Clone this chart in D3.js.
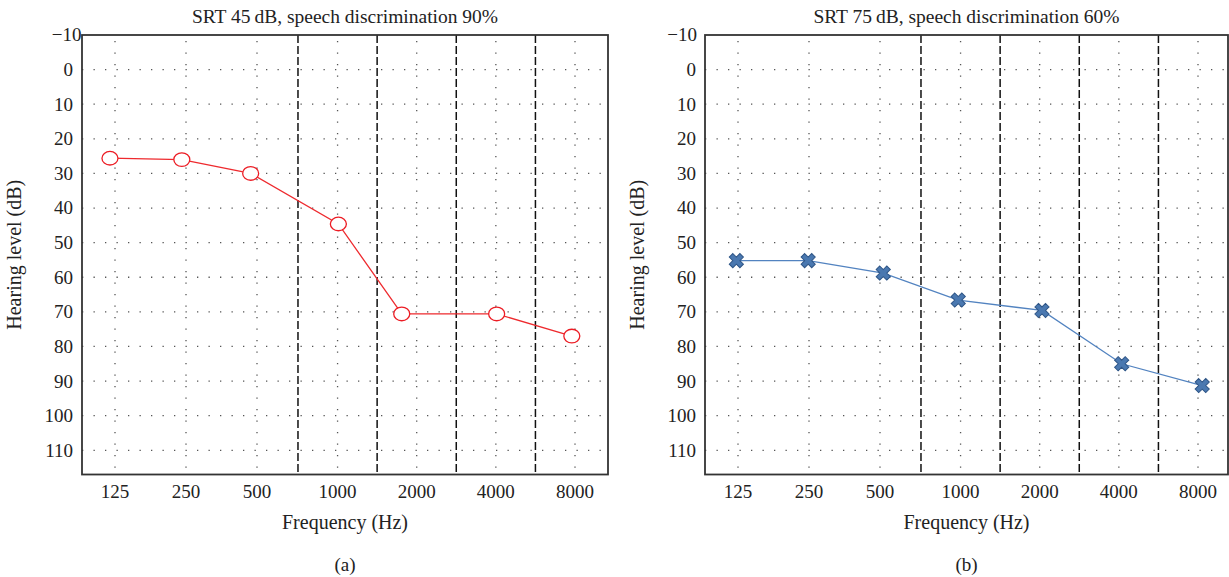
<!DOCTYPE html>
<html>
<head>
<meta charset="utf-8">
<script src="https://cdn.jsdelivr.net/npm/d3@7/dist/d3.min.js"></script>
<style>
  body { margin: 0; background: #fff; }
</style>
</head>
<body>
<svg id="chart" width="1229" height="577" font-family="'Liberation Serif', 'Times New Roman', Times, serif"></svg>
<script>
// audiograms, two panels

// frequency categories (Hz)
const freqs = [125, 250, 500, 1000, 2000, 4000, 8000];
const freqLabels = ["125", "250", "500", "1000", "2000", "4000", "8000"];
// dashed separators sit half an octave between categories
const dashedFreqs = [707, 1414, 2828, 5657];
const yTicks = [-10, 0, 10, 20, 30, 40, 50, 60, 70, 80, 90, 100, 110];

// panel (a): where the circles were plotted, and hearing level
const leftFreq = [119, 240, 470, 1007, 1754, 4028, 7780];
const leftLevel = [25.6, 26, 30, 44.6, 70.6, 70.6, 77];

// panel (b)
const rightFreq = [123, 248, 514, 980, 2040, 4100, 8300];
const rightLevel = [55.2, 55.2, 58.8, 66.6, 69.6, 85, 91.3];

const titles = ["SRT 45\u2009dB, speech discrimination 90%", "SRT 75\u2009dB, speech discrimination 60%"];

var svg = d3.select("#chart");

var top_ = 35, bottom_ = 474.5;

function drawPanel(cfg) {
  var g = svg.append("g").attr("transform", "translate(" + cfg.left + ",0)");
  var w = cfg.width;

  // octave spacing is a bit narrower on the low side
  var oct = d3.scaleLinear().domain([0, 2, 2.5, 6]).range([33, 175, 216, 493]);
  var x = function(f) { return oct(Math.log2(f / 125)); };
  var y = d3.scaleLinear().domain([-10, 117]).range([top_, bottom_]);

  // dotted grid
  g.selectAll(".hgrid")
    .data(yTicks.slice(1))
    .enter().append("line")
    .attr("x1", 0).attr("x2", w)
    .attr("y1", d => y(d)).attr("y2", d => y(d))
    .attr("stroke", "#555").attr("stroke-width", 1.3)
    .attr("stroke-dasharray", "1.3,10.2");

  g.selectAll(".vgrid")
    .data(freqs)
    .enter().append("line")
    .attr("x1", d => x(d)).attr("x2", d => x(d))
    .attr("y1", top_).attr("y2", bottom_)
    .attr("stroke", "#555").attr("stroke-width", 1.3)
    .attr("stroke-dasharray", "1.3,10.2")
    .attr("stroke-dashoffset", -6);

  // dashed separators
  g.selectAll(".sep")
    .data(dashedFreqs)
    .enter().append("line")
    .attr("x1", d => x(d)).attr("x2", d => x(d))
    .attr("y1", top_).attr("y2", bottom_)
    .attr("stroke", "#111").attr("stroke-width", 1.5)
    .attr("stroke-dasharray", "8,3");

  // frame
  g.append("rect")
    .attr("x", 0).attr("y", top_)
    .attr("width", w).attr("height", bottom_ - top_)
    .attr("fill", "none").attr("stroke", "#333").attr("stroke-width", 1.8);

  // y tick labels
  g.selectAll(".ylab")
    .data(yTicks)
    .enter().append("text")
    .attr("x", d => (d == -10 ? cfg.topLabelX : -9))
    .attr("y", d => y(d))
    .attr("dy", "0.34em")
    .attr("text-anchor", "end")
    .attr("fill", "#222")
    .style("font-size", "19px")
    .text(d => (d < 0 ? "\u2212" + Math.abs(d) : d));

  // x tick labels
  g.selectAll(".xlab")
    .data(freqs)
    .enter().append("text")
    .attr("x", d => x(d))
    .attr("y", 498)
    .attr("text-anchor", "middle")
    .attr("fill", "#222")
    .style("font-size", "19px")
    .text((d, i) => freqLabels[i]);

  // titles
  g.append("text")
    .attr("x", w / 2).attr("y", 22.5)
    .attr("text-anchor", "middle")
    .attr("fill", "#222")
    .style("font-size", "19.5px")
    .text(cfg.title);

  g.append("text")
    .attr("x", w / 2).attr("y", 529)
    .attr("text-anchor", "middle")
    .attr("fill", "#222")
    .style("font-size", "20px")
    .text("Frequency (Hz)");

  g.append("text")
    .attr("x", w / 2).attr("y", 571)
    .attr("text-anchor", "middle")
    .attr("fill", "#222")
    .style("font-size", "19px")
    .text(cfg.tag);

  g.append("text")
    .attr("transform", "translate(" + cfg.yLabelX + "," + ((top_ + bottom_) / 2) + ") rotate(-90)")
    .attr("text-anchor", "middle")
    .attr("fill", "#222")
    .style("font-size", "20px")
    .text("Hearing level (dB)");

  var pts = cfg.freq.map((f, i) => ({ f: f, v: cfg.level[i] }));

  var line = d3.line().x(d => x(d.f)).y(d => y(d.v));
  g.append("path")
    .datum(pts)
    .attr("d", line)
    .attr("fill", "none")
    .attr("stroke", cfg.lineColor)
    .attr("stroke-width", 1.3);

  if (cfg.marker == "circle") {
    g.selectAll(".pt")
      .data(pts)
      .enter().append("ellipse")
      .attr("cx", d => x(d.f)).attr("cy", d => y(d.v))
      .attr("rx", 8).attr("ry", 6.8)
      .attr("fill", "#fff")
      .attr("stroke", "#ec1c24").attr("stroke-width", 1.3);
  } else {
    var cross = d3.symbol().type(d3.symbolCross).size(125);
    g.selectAll(".pt")
      .data(pts)
      .enter().append("path")
      .attr("d", cross)
      .attr("transform", d => "translate(" + x(d.f) + "," + y(d.v) + ") rotate(45)")
      .attr("fill", "#4a78b0")
      .attr("stroke", "#2f5687").attr("stroke-width", 1);
  }
}

drawPanel({
  left: 82, width: 526, title: titles[0], tag: "(a)",
  freq: leftFreq, level: leftLevel,
  lineColor: "#ee2a2e", marker: "circle",
  topLabelX: -0.5, yLabelX: -61
});

drawPanel({
  left: 705, width: 523, title: titles[1], tag: "(b)",
  freq: rightFreq, level: rightLevel,
  lineColor: "#5283c0", marker: "cross",
  topLabelX: -8, yLabelX: -61
});
</script>
</body>
</html>
